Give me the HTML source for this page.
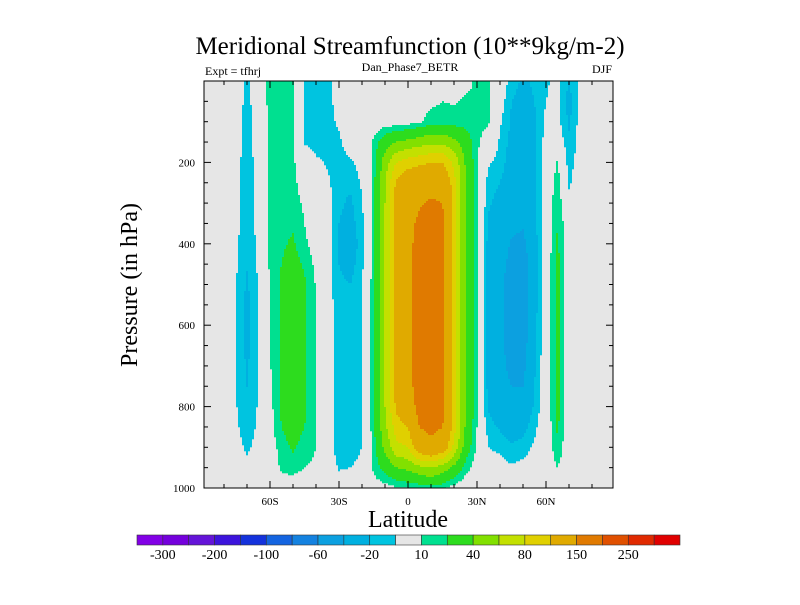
<!DOCTYPE html>
<html><head><meta charset="utf-8">
<style>
html,body{margin:0;padding:0;background:#fff;}
svg text{font-family:"Liberation Serif",serif;fill:#000;}
</style></head>
<body>
<svg id="chart" width="800" height="600" xmlns="http://www.w3.org/2000/svg">
<text x="410" y="54" font-size="25" text-anchor="middle">Meridional Streamfunction (10**9kg/m-2)</text>
<text x="205" y="75" font-size="12">Expt = tfhrj</text>
<text x="410" y="71" font-size="12" text-anchor="middle">Dan_Phase7_BETR</text>
<text x="612" y="73" font-size="12" text-anchor="end">DJF</text>
<rect x="204" y="81" width="409" height="407" fill="#e6e6e6"/>
<g id="cells"></g>
<g id="axes"></g>
<rect x="204" y="81" width="409" height="407" fill="none" stroke="#000" stroke-width="1"/>
<text transform="translate(137,285) rotate(-90)" font-size="24" text-anchor="middle">Pressure (in hPa)</text>
<text x="408" y="527" font-size="24" text-anchor="middle">Latitude</text>
<g id="colorbar"></g>
</svg>
<script>
const lats=[-90,-85,-80,-75,-70,-65,-60,-55,-50,-45,-40,-35,-30,-25,-20,-15,-10,-5,0,5,10,15,20,25,30,35,40,45,50,55,60,65,70,75,80,85,90];
const pressures=[0,50,100,150,200,250,300,350,400,450,500,550,600,650,700,750,800,850,900,950,1000];
const Z=[0,0,0,0,0,0,0,0,0,0,0,0,0,0,0,0,0,0,0,0,0];
const psiByLat=[
Z,Z,Z,
[-4,-4,-5,-5,-6,-6,-7,-7,-8,-8,-9,-9,-9,-9,-9,-9,-9,-8,-5,-2,0],
[-13,-13,-14,-14,-15,-15,-15,-15,-16,-19,-22,-23,-24,-23,-22,-20,-17,-15,-12,-6,0],
[-4,-4,-5,-5,-6,-6,-7,-7,-8,-8,-9,-9,-9,-9,-9,-9,-9,-8,-6,-2,0],
[15,15,15,15,15,15,14,14,12,12,11,11,10,10,9,8,6,5,3,1,0],
[17,17,17,17,17,17,17,17,18,20,22,22,22,22,22,22,22,20,15,12,3],
[12,12,12,12,12,13,15,18,22,26,30,30,30,30,30,30,30,27,22,14,3],
[-12,-12,-12,-11,0,4,8,10,12,18,22,22,22,22,22,22,22,20,15,10,0],
[-15,-15,-15,-14,-8,-3,0,2,5,7,9,9,9,9,9,9,9,10,10,8,0],
[-14,-14,-14,-13,-11,-8,-3,-3,-4,-4,-4,-4,-4,-4,-4,-4,-4,-5,-5,-4,0],
[-5,-5,-8,-12,-15,-17,-18,-20,-22,-20,-18,-16,-15,-14,-14,-14,-14,-14,-14,-11,-3],
[0,0,0,-3,-12,-18,-22,-25,-28,-25,-20,-17,-16,-15,-15,-15,-15,-14,-13,-10,-2],
[0,0,0,-2,-5,-8,-12,-13,-15,-13,-11,-11,-11,-11,-11,-11,-11,-11,-10,-8,0],
[0,0,2,12,14,15,16,16,16,16,16,16,16,16,16,16,16,16,15,12,4],
[0,0,3,30,50,58,60,60,60,60,60,60,60,60,60,60,60,55,45,25,5],
[0,0,3,40,80,105,110,110,110,110,110,110,110,110,110,110,105,90,75,40,8],
[0,0,5,45,90,120,130,135,135,135,135,135,135,135,135,135,125,100,80,45,10],
[0,5,8,50,95,125,145,160,170,170,170,170,170,170,170,170,165,150,120,55,12],
[0,8,14,55,100,135,155,175,190,195,195,195,195,195,190,185,185,165,130,60,15],
[2,10,14,55,100,130,150,160,165,165,165,165,165,165,165,165,165,150,120,50,12],
[2,9,14,45,75,88,90,90,90,90,90,90,90,90,90,90,90,88,75,35,5],
[6,12,15,30,38,40,40,40,40,40,40,40,40,40,40,40,40,38,30,15,0],
[12,12,12,12,11,10,10,10,10,10,10,10,10,10,10,10,10,10,8,3,0],
[12,12,11,5,-8,-15,-18,-22,-25,-25,-25,-25,-25,-25,-25,-25,-22,-15,-10,-5,0],
[0,-3,-8,-12,-15,-20,-25,-28,-30,-33,-35,-35,-35,-35,-35,-32,-30,-22,-12,-6,0],
[-15,-20,-22,-24,-26,-28,-30,-35,-42,-46,-50,-50,-50,-48,-45,-40,-35,-28,-18,-8,0],
[-22,-25,-28,-29,-30,-31,-32,-38,-45,-50,-52,-52,-52,-48,-45,-40,-33,-25,-15,-6,0],
[-18,-20,-22,-23,-24,-24,-25,-25,-26,-26,-26,-26,-25,-24,-22,-20,-18,-13,-8,-3,0],
[-11,-10,-7,-5,-3,-2,0,0,0,0,0,0,0,0,0,0,0,0,0,0,0],
[-8,-7,-6,0,12,15,18,20,22,24,25,25,25,25,25,25,25,22,18,10,0],
[-20,-25,-22,-18,-15,-12,-5,0,0,0,0,0,0,0,0,0,0,0,0,0,0],
[-6,-6,-5,-5,-3,-2,0,0,0,0,0,0,0,0,0,0,0,0,0,0,0],
[-3,0,0,0,0,0,0,0,0,0,0,0,0,0,0,0,0,0,0,0,0],
Z,Z];
const levels=[-300,-250,-200,-150,-100,-80,-60,-40,-20,-10,10,20,40,60,80,100,150,200,250,300];
const levelLabels=["-300","-200","-100","-60","-20","10","40","80","150","250"];
const colors=["#8200e6","#7400dc","#6414d8","#3c14dc","#1432dc","#1464e0","#1482e0","#0ca0e0","#00b0e0","#00c4e0","#e6e6e6","#00e090","#2ddc1e","#82e000","#c3e000","#e0d000","#e0aa00","#e07a00","#e05000","#e02a00","#e00000"];
const latTicks=[-60,-30,0,30,60];
const latTickLabels=["60S","30S","0","30N","60N"];
const pTicks=[200,400,600,800,1000];

const NS="http://www.w3.org/2000/svg";
const X0=204,X1=613,Y0=81,Y1=488;
function xOf(lat){return 408+lat*2.3;}
function latOf(x){return (x-408)/2.3;}
function yOf(p){return Y0+p*(Y1-Y0)/1000;}
function pOf(y){return (y-Y0)*1000/(Y1-Y0);}
function sample(lat,p){
  let i=(lat-lats[0])/(lats[1]-lats[0]);i=Math.max(0,Math.min(lats.length-1.0001,i));
  let j=(p-pressures[0])/(pressures[1]-pressures[0]);j=Math.max(0,Math.min(pressures.length-1.0001,j));
  const i0=Math.floor(i),j0=Math.floor(j),fi=i-i0,fj=j-j0;
  const a=psiByLat[i0][j0],b=psiByLat[i0+1][j0],c=psiByLat[i0][j0+1],d=psiByLat[i0+1][j0+1];
  return a*(1-fi)*(1-fj)+b*fi*(1-fj)+c*(1-fi)*fj+d*fi*fj;
}
function levelIndex(v){let k=0;while(k<levels.length&&v>=levels[k])k++;return k;}
const cells=document.getElementById('cells');
const step=2;
for(let y=Y0;y<Y1;y+=step){
  let runStart=X0,runK=-1;
  const p=pOf(y+step/2);
  for(let x=X0;x<=X1;x+=step){
    let k=-2;
    if(x<X1){k=levelIndex(sample(latOf(x+step/2),p));}
    if(k!==runK){
      if(runK>=0&&runK!==10){
        const r=document.createElementNS(NS,'rect');
        
        
        r.setAttribute('x',runStart);r.setAttribute('y',y);
        r.setAttribute('width',Math.min(x,X1)-runStart);r.setAttribute('height',Math.min(step,Y1-y)+0.3);
        r.setAttribute('fill',colors[runK]);
        cells.appendChild(r);
      }
      runStart=x;runK=k;
    }
  }
}
const axes=document.getElementById('axes');
function line(x1,y1,x2,y2,name){
  const l=document.createElementNS(NS,'line');
  
  
  l.setAttribute('x1',x1);l.setAttribute('y1',y1);l.setAttribute('x2',x2);l.setAttribute('y2',y2);
  l.setAttribute('stroke','#000');l.setAttribute('stroke-width','1');
  axes.appendChild(l);
}
function text(x,y,s,anchor,size,name,parent){
  const t=document.createElementNS(NS,'text');
  
  
  t.setAttribute('x',x);t.setAttribute('y',y);t.setAttribute('text-anchor',anchor);
  t.setAttribute('font-size',size);t.textContent=s;
  parent.appendChild(t);
}
for(let p=50;p<=1000;p+=50){
  const y=yOf(p);const major=pTicks.includes(p);const L=major?7:4;
  line(X0,y,X0+L,y,'y-tick');line(X1,y,X1-L,y,'y-tick-right');
}
pTicks.forEach(p=>text(195,yOf(p)+4,String(p),'end',11,'y-tick-label',axes));
for(let lat=-80;lat<=80;lat+=10){
  const x=xOf(lat);const major=latTicks.includes(lat);const L=major?7:4;
  line(x,Y1,x,Y1-L,'x-tick');line(x,Y0,x,Y0+L,'x-tick-top');
}
latTicks.forEach((lat,i)=>text(xOf(lat),505,latTickLabels[i],'middle',11,'x-tick-label',axes));
const cb=document.getElementById('colorbar');
const CB0=137,CB1=680,cw=(CB1-CB0)/colors.length;
colors.forEach((c,i)=>{
  const r=document.createElementNS(NS,'rect');
  
  
  r.setAttribute('x',CB0+i*cw);r.setAttribute('y',535);r.setAttribute('width',cw);r.setAttribute('height',10);
  r.setAttribute('fill',c);r.setAttribute('stroke','#333');r.setAttribute('stroke-width','0.6');
  cb.appendChild(r);
});
levelLabels.forEach((s,i)=>text(CB0+(2*i+1)*cw,559,s,'middle',14,'colorbar-label',cb));
</script>
</body></html>
